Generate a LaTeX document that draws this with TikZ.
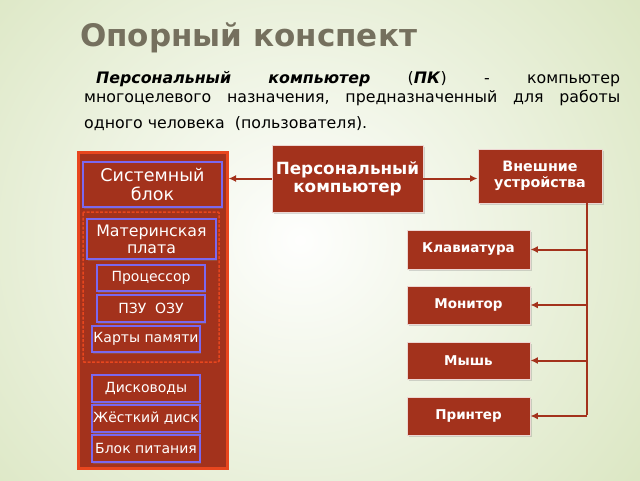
\documentclass[tikz,border=0pt]{standalone}
\usepackage{fontspec}
\setmainfont{DejaVu Sans}
\usetikzlibrary{arrows.meta,shadows}
\definecolor{boxred}{RGB}{163,50,28}
\definecolor{borange}{RGB}{232,70,30}
\definecolor{bblue}{RGB}{123,104,238}
\definecolor{titlec}{RGB}{117,112,94}
\definecolor{bgedge}{RGB}{220,231,196}
\begin{document}
\begin{tikzpicture}[x=1pt,y=-1pt,
  inbox/.style={draw=bblue, line width=2.5pt, fill=boxred, text=white, align=center,
    inner sep=1pt, drop shadow={opacity=0.35,shadow xshift=1pt,shadow yshift=-1.5pt}},
  redbox/.style={draw=white!80!boxred, line width=0.8pt, fill=boxred, text=white,
    font=\bfseries, align=center, inner sep=1pt,
    drop shadow={opacity=0.3,shadow xshift=1.5pt,shadow yshift=-1.5pt}},
  link/.style={draw=boxred, line width=2pt, -{Latex[length=7.5pt,width=7pt]}},
  trunkline/.style={draw=boxred, line width=2pt},
  para/.style={anchor=base west, inner sep=0, font=\fontsize{15.8}{18}\selectfont},
]
\useasboundingbox (0,0) rectangle (640,480);
\begin{scope}
\clip (0,0) rectangle (640,480);
\shade[inner color=white!97!bgedge, outer color=bgedge] (-120,-160) rectangle (720,640);
\end{scope}

% title and text
\node[anchor=west, inner sep=0, text=titlec, font=\fontsize{31}{37}\selectfont\bfseries] (title) at (80,38) {Опорный конспект};
\node[para] (l1) at (96,83)
  {\hbox to 524pt{\textbf{\textit{Персональный}}\hfill\textbf{\textit{компьютер}}\hfill(\textbf{\textit{ПК}})\hfill-\hfill компьютер}};
\node[para] (l2) at (84,102)
  {\hbox to 536pt{многоцелевого\hfill назначения,\hfill предназначенный\hfill для\hfill работы}};
\node[para] (l3) at (84,128)
  {одного человека\ \ (пользователя).};

% system unit
\node[draw=borange, line width=3pt, fill=boxred, minimum width=149pt, minimum height=316pt,
  drop shadow={opacity=0.3,shadow xshift=1.5pt,shadow yshift=-1.5pt}] (outer) at (152.5,310) {};
\draw[borange, line width=1.5pt, dash pattern=on 3pt off 1.5pt, rounded corners=1pt] (83,212) rectangle (219,362);

\node[inbox, minimum width=139pt, minimum height=45pt, font=\fontsize{17.5}{19}\selectfont] (sys) at (152.5,184.5) {Системный\\блок};
\node[inbox, minimum width=129pt, minimum height=40pt, font=\fontsize{15.8}{17}\selectfont] (mb) at (151.5,239) {Материнская\\плата};
\node[inbox, minimum width=108pt, minimum height=26pt, font=\fontsize{14}{15}\selectfont] (cpu) at (151,278) {Процессор};
\node[inbox, minimum width=108pt, minimum height=27pt, font=\fontsize{14}{15}\selectfont] (rom) at (151,308.5) {ПЗУ\ \ ОЗУ};
\node[inbox, minimum width=108pt, minimum height=26pt, font=\fontsize{14}{15}\selectfont] (cards) at (146,339) {Карты памяти};
\node[inbox, minimum width=108pt, minimum height=27pt, font=\fontsize{14}{15}\selectfont] (fdd) at (146,388.5) {Дисководы};
\node[inbox, minimum width=108pt, minimum height=27pt, font=\fontsize{14}{15}\selectfont] (hdd) at (146,418.5) {Жёсткий диск};
\node[inbox, minimum width=108pt, minimum height=27pt, font=\fontsize{14}{15}\selectfont] (psu) at (146,448.5) {Блок питания};

% PC and external devices
\node[redbox, minimum width=151pt, minimum height=67pt, font=\fontsize{16.8}{18}\selectfont\bfseries] (pc) at (347.5,178.5) {Персональный\\компьютер};
\node[redbox, minimum width=124pt, minimum height=54pt, font=\fontsize{14.3}{16.5}\selectfont\bfseries] (ext) at (540,176) {Внешние\\устройства};

\node[redbox, minimum width=123pt, minimum height=39pt, font=\fontsize{13.5}{15}\selectfont\bfseries] (kb) at (468.5,249.5) {Клавиатура};
\node[redbox, minimum width=123pt, minimum height=38pt, font=\fontsize{13.5}{15}\selectfont\bfseries] (mon) at (468.5,305) {Монитор};
\node[redbox, minimum width=123pt, minimum height=37pt, font=\fontsize{13.5}{15}\selectfont\bfseries] (mouse) at (468.5,360.5) {Мышь};
\node[redbox, minimum width=123pt, minimum height=38pt, font=\fontsize{13.5}{15}\selectfont\bfseries] (prn) at (468.5,416) {Принтер};

% connectors
\draw[link] (pc.west) -- (pc.west -| outer.east);
\draw[link] (pc.east) -- (pc.east -| ext.west);
\coordinate (trunk) at (587,0);
\draw[trunkline] (ext.south -| trunk) -- ([yshift=1pt]prn.east -| trunk);
\draw[link] (kb.east -| trunk) -- (kb.east);
\draw[link] (mon.east -| trunk) -- (mon.east);
\draw[link] (mouse.east -| trunk) -- (mouse.east);
\draw[link] (prn.east -| trunk) -- (prn.east);
\end{tikzpicture}
\end{document}
